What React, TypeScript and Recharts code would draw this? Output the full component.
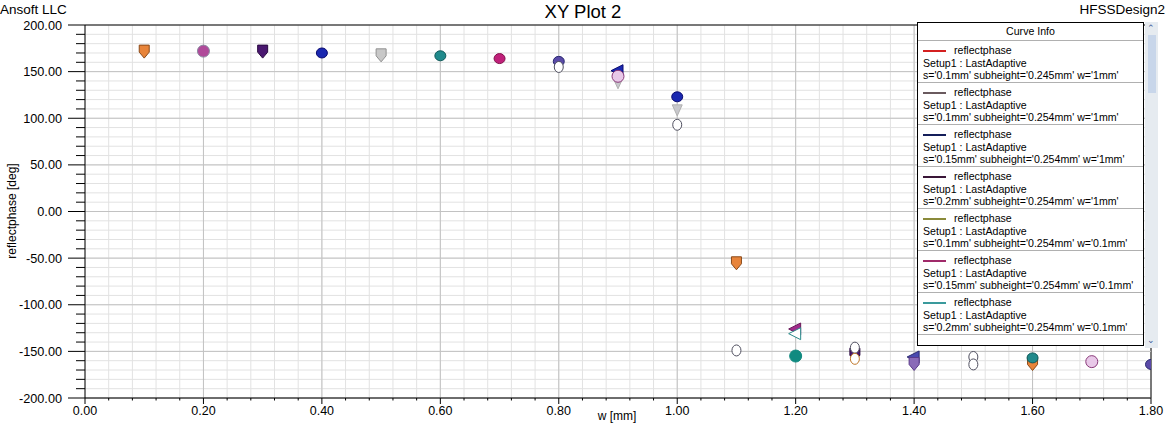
import React from 'react';
import { ScatterChart, Scatter, XAxis, YAxis, CartesianGrid, ReferenceLine } from 'recharts';

// ---- data (w [mm], reflectphase [deg]) ----
const orangePts = [{ w: 0.1, p: 172 }, { w: 1.1, p: -55 }, { w: 1.6, p: -163 }];
const pinkPurplePts = [{ w: 0.2, p: 172 }];
const darkPurplePts = [{ w: 0.3, p: 172 }, { w: 1.3, p: -153 }];
const bluePts = [{ w: 0.4, p: 170 }, { w: 1.0, p: 123 }];
const blueTriPts = [{ w: 0.9, p: 151 }];
const greyPts = [{ w: 0.5, p: 168 }];
const greyTriPts = [{ w: 0.9, p: 138 }, { w: 1.0, p: 109 }];
const tealPts = [{ w: 0.6, p: 167 }, { w: 1.6, p: -157 }];
const tealCirclePts = [{ w: 1.2, p: -155 }];
const magentaPts = [{ w: 0.7, p: 164 }];
const magentaTriPts = [{ w: 1.2, p: -126 }];
const slatePts = [{ w: 0.8, p: 161 }, { w: 1.8, p: -164 }];
const slateTriPts = [{ w: 1.4, p: -156 }];
const ringPts = [{ w: 0.8, p: 155 }, { w: 1.0, p: 93 }, { w: 1.1, p: -149 }, { w: 1.3, p: -146 }, { w: 1.5, p: -156 }, { w: 1.5, p: -164 }];
const whiteTriPts = [{ w: 1.2, p: -131 }];
const pinkPts = [{ w: 0.9, p: 145 }, { w: 1.7, p: -161 }];
const orangeRingPts = [{ w: 1.3, p: -158 }];
const purplePts = [{ w: 1.4, p: -163 }];

const xMajorTicks = [0, 0.2, 0.4, 0.6, 0.8, 1.0, 1.2, 1.4, 1.6, 1.8];
const yMajorTicks = [-200, -150, -100, -50, 0, 50, 100, 150, 200];
const xMinorTicks = Array.from({ length: 46 }, (_, i) => Math.round(i * 4) / 100);
const yMinorTicks = Array.from({ length: 41 }, (_, i) => -200 + i * 10);

const legendEntries = [
  { color: '#d42020', setup: 'Setup1 : LastAdaptive', vars: "s='0.1mm' subheight='0.245mm' w='1mm'" },
  { color: '#6a5a5e', setup: 'Setup1 : LastAdaptive', vars: "s='0.1mm' subheight='0.254mm' w='1mm'" },
  { color: '#141e5a', setup: 'Setup1 : LastAdaptive', vars: "s='0.15mm' subheight='0.254mm' w='1mm'" },
  { color: '#3a1638', setup: 'Setup1 : LastAdaptive', vars: "s='0.2mm' subheight='0.254mm' w='1mm'" },
  { color: '#8a8a3a', setup: 'Setup1 : LastAdaptive', vars: "s='0.1mm' subheight='0.254mm' w='0.1mm'" },
  { color: '#a02a6a', setup: 'Setup1 : LastAdaptive', vars: "s='0.15mm' subheight='0.254mm' w='0.1mm'" },
  { color: '#3a9a9c', setup: 'Setup1 : LastAdaptive', vars: "s='0.2mm' subheight='0.254mm' w='0.1mm'" },
];

const FONT = '"Liberation Sans", Arial, sans-serif';

const isMajor = (v: number, step: number) => Math.abs(v / step - Math.round(v / step)) < 1e-6;

type Kind = 'shield' | 'circle' | 'triL' | 'triDown' | 'ring' | 'blob';

const makeShape = (kind: Kind, fill: string, stroke: string) => (props: any) => {
  const { cx, cy } = props;
  if (cx == null || cy == null) return <g />;
  switch (kind) {
    case 'shield':
      return (
        <path
          d={`M${cx - 5},${cy - 6} L${cx + 5},${cy - 6} L${cx + 5},${cy + 1} L${cx},${cy + 7} L${cx - 5},${cy + 1} Z`}
          fill={fill}
          stroke={stroke}
          strokeWidth={1}
        />
      );
    case 'circle':
      return <circle cx={cx} cy={cy} r={6} fill={fill} stroke={stroke} strokeWidth={1} />;
    case 'blob':
      return <ellipse cx={cx} cy={cy} rx={5.5} ry={5} fill={fill} stroke={stroke} strokeWidth={1} />;
    case 'triL':
      return (
        <path d={`M${cx - 7},${cy} L${cx + 5},${cy - 6} L${cx + 5},${cy + 6} Z`} fill={fill} stroke={stroke} strokeWidth={1} />
      );
    case 'triDown':
      return (
        <path d={`M${cx - 5},${cy - 5} L${cx + 5},${cy - 5} L${cx},${cy + 6} Z`} fill={fill} stroke={stroke} strokeWidth={1} />
      );
    case 'ring':
    default:
      return <ellipse cx={cx} cy={cy} rx={4.5} ry={5.5} fill={fill} stroke={stroke} strokeWidth={1} />;
  }
};

const seriesList = [
  { name: 'orange', data: orangePts, kind: 'shield' as Kind, fill: '#e8843a', stroke: '#8a4a1a' },
  { name: 'pinkPurple', data: pinkPurplePts, kind: 'circle' as Kind, fill: '#b04a9a', stroke: '#8a8aa0' },
  { name: 'darkPurple', data: darkPurplePts, kind: 'shield' as Kind, fill: '#4a1870', stroke: '#2a0a40' },
  { name: 'blue', data: bluePts, kind: 'blob' as Kind, fill: '#1a28b0', stroke: '#0a0a70' },
  { name: 'blueTri', data: blueTriPts, kind: 'triL' as Kind, fill: '#1a28b0', stroke: '#0a0a70' },
  { name: 'grey', data: greyPts, kind: 'shield' as Kind, fill: '#c8c8c8', stroke: '#909090' },
  { name: 'greyTri', data: greyTriPts, kind: 'triDown' as Kind, fill: '#c8c8cc', stroke: '#b0b0b0' },
  { name: 'teal', data: tealPts, kind: 'blob' as Kind, fill: '#208a8c', stroke: '#105a5a' },
  { name: 'tealCircle', data: tealCirclePts, kind: 'circle' as Kind, fill: '#108a80', stroke: '#108a80' },
  { name: 'magenta', data: magentaPts, kind: 'blob' as Kind, fill: '#c0207a', stroke: '#80104a' },
  { name: 'magentaTri', data: magentaTriPts, kind: 'triL' as Kind, fill: '#a02a8a', stroke: '#6a1a5a' },
  { name: 'whiteTri', data: whiteTriPts, kind: 'triL' as Kind, fill: '#ffffff', stroke: '#2a8a8a' },
  { name: 'slate', data: slatePts, kind: 'blob' as Kind, fill: '#5a4aa8', stroke: '#2a2a70' },
  { name: 'slateTri', data: slateTriPts, kind: 'triL' as Kind, fill: '#4a4ab0', stroke: '#2a2a70' },
  { name: 'pink', data: pinkPts, kind: 'circle' as Kind, fill: '#e8c8e8', stroke: '#8a3a7a' },
  { name: 'ring', data: ringPts, kind: 'ring' as Kind, fill: '#ffffff', stroke: '#505060' },
  { name: 'orangeRing', data: orangeRingPts, kind: 'ring' as Kind, fill: '#ffffff', stroke: '#c0782a' },
  { name: 'purple', data: purplePts, kind: 'shield' as Kind, fill: '#8a6ab8', stroke: '#5a3a8a' },
];

const XTick = (props: any) => {
  const { x, y, payload } = props;
  const v = payload.value as number;
  const major = isMajor(v, 0.2);
  return (
    <g>
      <line x1={x} y1={y} x2={x} y2={y + (major ? 6 : 2.5)} stroke="#000" strokeWidth={1} />
      {major && (
        <text x={x} y={y + 17} textAnchor="middle" fontSize={12.5} fontFamily={FONT} fill="#000">
          {v.toFixed(2)}
        </text>
      )}
    </g>
  );
};

const YTick = (props: any) => {
  const { x, y, payload } = props;
  const v = payload.value as number;
  const major = isMajor(v, 50);
  return (
    <g>
      <line x1={x - (major ? 17 : 9)} y1={y} x2={x} y2={y} stroke="#000" strokeWidth={1} />
      {major && (
        <text x={x - 23} y={y + 4.5} textAnchor="end" fontSize={12.7} fontFamily={FONT} fill="#000">
          {v.toFixed(2)}
        </text>
      )}
    </g>
  );
};

export default function App() {
  return (
    <div style={{ position: 'absolute', left: 0, top: 0, width: 1168, height: 424, background: '#fff', overflow: 'hidden' }}>
      <ScatterChart width={1168} height={424} margin={{ top: 25, right: 17, bottom: 0, left: 25 }}>
        <CartesianGrid stroke="#e2e2e2" strokeWidth={1} />
        <XAxis
          type="number"
          dataKey="w"
          domain={[0, 1.8]}
          ticks={xMinorTicks}
          interval={0}
          height={26}
          tickSize={0}
          tickMargin={0}
          tickLine={false}
          axisLine={{ stroke: '#000', strokeWidth: 1 }}
          tick={<XTick />}
          allowDataOverflow
        />
        <YAxis
          type="number"
          dataKey="p"
          domain={[-200, 200]}
          ticks={yMinorTicks}
          interval={0}
          width={60}
          tickSize={0}
          tickMargin={0}
          tickLine={false}
          axisLine={{ stroke: '#000', strokeWidth: 1 }}
          tick={<YTick />}
          allowDataOverflow
        />
        {xMajorTicks.slice(1).map((v) => (
          <ReferenceLine key={'vx' + v} x={v} stroke={v === 1.8 ? '#000' : '#c2c2c2'} strokeWidth={1} />
        ))}
        {yMajorTicks.slice(0, -1).map((v) => (
          <ReferenceLine key={'hy' + v} y={v} stroke="#c2c2c2" strokeWidth={1} />
        ))}
        <ReferenceLine y={200} stroke="#000" strokeWidth={1} />
        {seriesList.map((s) => (
          <Scatter
            key={s.name}
            name={s.name}
            data={s.data}
            isAnimationActive={false}
            shape={makeShape(s.kind, s.fill, s.stroke)}
          />
        ))}
      </ScatterChart>

      <svg width={1168} height={424} style={{ position: 'absolute', left: 0, top: 0, pointerEvents: 'none' }}>
        <text x={0} y={14} fontSize={13.5} fontFamily={FONT} fill="#000">Ansoft LLC</text>
        <text x={583} y={18} textAnchor="middle" fontSize={18.5} fontFamily={FONT} fill="#000">XY Plot 2</text>
        <text x={1165} y={14} textAnchor="end" fontSize={13.5} fontFamily={FONT} fill="#000">HFSSDesign2</text>
        <text
          x={16}
          y={211}
          transform="rotate(-90 16 211)"
          textAnchor="middle"
          fontSize={12}
          fontFamily={FONT}
          fill="#000"
        >
          reflectphase [deg]
        </text>
        <text x={617} y={420} textAnchor="middle" fontSize={12} fontFamily={FONT} fill="#000">w [mm]</text>
      </svg>

      {/* Curve Info legend */}
      <div
        style={{
          position: 'absolute',
          left: 917,
          top: 22,
          width: 227,
          height: 324,
          border: '1px solid #000',
          background: '#fff',
          fontFamily: FONT,
          fontSize: 10.6,
          color: '#000',
          boxSizing: 'border-box',
          overflow: 'hidden',
        }}
      >
        <div style={{ height: 17, lineHeight: '17px', textAlign: 'center', borderBottom: '1px solid #b0b0b0' }}>Curve Info</div>
        {legendEntries.map((e, i) => (
          <div key={i} style={{ height: 42, borderBottom: '1px solid #b0b0b0', paddingLeft: 5, paddingTop: 3, boxSizing: 'border-box' }}>
            <div style={{ height: 12.5, lineHeight: '12.5px', whiteSpace: 'nowrap' }}>
              <span style={{ display: 'inline-block', width: 23, height: 2, background: e.color, verticalAlign: 'middle', marginRight: 8, marginLeft: 0 }} />
              reflectphase
            </div>
            <div style={{ height: 12.5, lineHeight: '12.5px', whiteSpace: 'nowrap' }}>{e.setup}</div>
            <div style={{ height: 12.5, lineHeight: '12.5px', whiteSpace: 'nowrap' }}>{e.vars}</div>
          </div>
        ))}
      </div>
      {/* scrollbar */}
      <div style={{ position: 'absolute', left: 1145, top: 22, width: 13, height: 326, background: '#e6ebf0' }}>
        <div style={{ position: 'absolute', left: 2, top: 2, fontSize: 9, fontFamily: FONT, color: '#3a5a9a', lineHeight: '9px' }}>⌃</div>
        <div style={{ position: 'absolute', left: 3, top: 13, width: 8, height: 58, background: '#c8d6ea' }} />
        <div style={{ position: 'absolute', left: 2, bottom: 3, fontSize: 9, fontFamily: FONT, color: '#3a5a9a', lineHeight: '9px' }}>⌄</div>
      </div>
    </div>
  );
}
